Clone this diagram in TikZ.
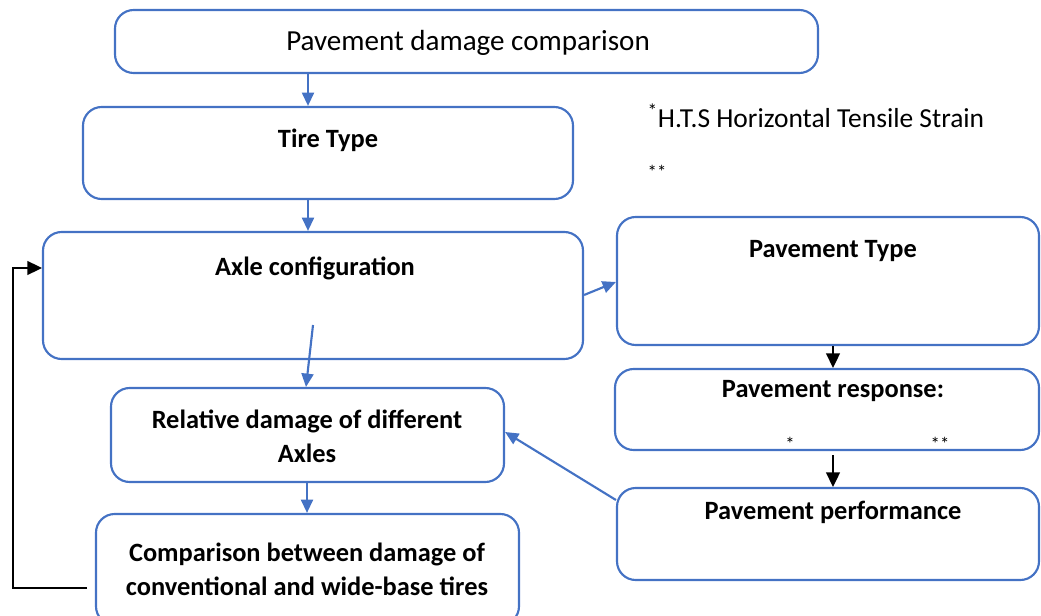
\documentclass[tikz,border=0pt]{standalone}
\usepackage{fontspec}
\setmainfont{Carlito}
\usetikzlibrary{arrows.meta,fit}
\definecolor{boxblue}{HTML}{4472C4}

\begin{document}
\begin{tikzpicture}[x=0.75pt, y=-0.75pt,
    box/.style = {draw=boxblue, line width=1.6pt, rounded corners=14pt, inner sep=0pt},
    head/.style = {font=\fontsize{19.8}{25.5}\selectfont\bfseries},
    plain/.style = {font=\fontsize{20.6}{25}\selectfont},
    star/.style = {font=\fontsize{14}{16}\selectfont},
    blue arrow/.style = {draw=boxblue, line width=1.6pt, -{Triangle[length=10pt,width=9pt]}},
    black arrow/.style = {draw=black, line width=1.1pt, -{Triangle[length=11pt,width=10.5pt]}}]
    \useasboundingbox (0,0) rectangle (1041,616);
    % boxes, left column
    \node[box, fit={(115,10)(818,73)}] (top) {};
    \node[box, fit={(83,107)(573,199)}] (tire) {};
    \node[box, fit={(43,232)(583,359)}] (axle) {};
    \node[box, fit={(111,388)(504,482)}] (rel) {};
    \node[box, fit={(96,514)(519,625)}] (comp) {};
    % boxes, right column
    \node[box, fit={(617,217)(1039,345)}] (ptype) {};
    \node[box, fit={(615,369)(1039,450)}] (resp) {};
    \node[box, fit={(617,488)(1039,580)}] (perf) {};
    % texts
    \node[plain, font=\fontsize{21.8}{25}\selectfont] (topt) at (468,43) {Pavement damage comparison};
    \node[head] (tiret) at (328,140) {Tire Type};
    \node[head] (axlet) at (315,268) {Axle configuration};
    \node[head, align=center] (relt) at (307,436) {Relative damage of different\\Axles};
    \node[head, align=center] (compt) at (307,569) {Comparison between damage of\\conventional and wide-base tires};
    \node[head] (ptypet) at (833,251) {Pavement Type};
    \node[head] (respt) at (833,391) {Pavement response:};
    \node[head] (perft) at (833,512) {Pavement performance};
    \node[star] (st1) at (790,444) {*};
    \node[star] (st2) at (940,444) {**};
    \node[plain, anchor=west] (note1) at (643,116) {\textsuperscript{*}H.T.S Horizontal Tensile Strain};
    \node[star, anchor=west] (note2) at (643,172) {**};
    % connectors
    \coordinate (axlein) at (313,325);
    \coordinate (respout) at (833,455);
    \coordinate (backcorner) at (87,588);
    \draw[blue arrow] (top.south -| 308,0) -- (tire.north -| 308,0);
    \draw[blue arrow] (tire.south -| 308,0) -- (axle.north -| 308,0);
    \draw[blue arrow] (axlein) -- (rel.north -| 306,0);
    \draw[blue arrow] (axle.east |- 0,295) -- (ptype.west |- 0,282);
    \draw[blue arrow] (perf.west |- 0,500) -- (rel.east |- 0,432);
    \draw[blue arrow] (rel.south -| 307,0) -- (comp.north -| 307,0);
    \draw[black arrow] (ptype.south -| 833,0) -- (resp.north -| 833,0);
    \draw[black arrow] (respout) -- (perf.north -| 833,0);
    \draw[black arrow] (backcorner) -- (13,588) -- (13,268) -- (axle.west |- 0,268);
\end{tikzpicture}
\end{document}
